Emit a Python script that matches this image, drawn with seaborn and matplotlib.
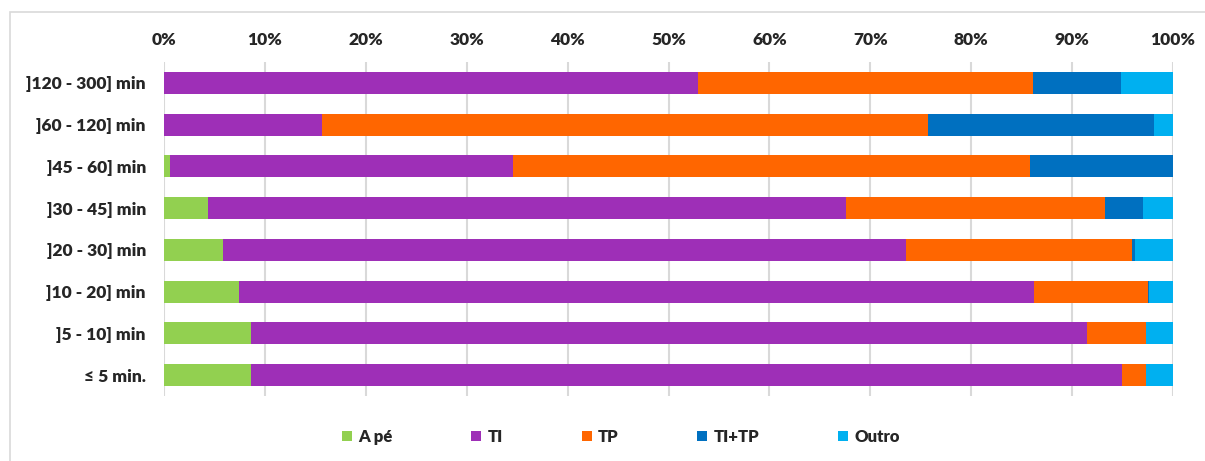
import matplotlib
matplotlib.use("Agg")
import matplotlib.pyplot as plt
from matplotlib.patches import Patch, Rectangle
import numpy as np
import pandas as pd
import seaborn as sns

categories = [']120 - 300] min', ']60 - 120] min', ']45 - 60] min', ']30 - 45] min',
              ']20 - 30] min', ']10 - 20] min', ']5 - 10] min', '≤ 5 min.']
modes = ['A pé', 'TI', 'TP', 'TI+TP', 'Outro']
a_pe = [0.0, 0.0, 0.6, 4.4, 5.8, 7.4, 8.65, 8.65]
ti = [52.9, 15.7, 34.0, 63.2, 67.7, 78.8, 82.85, 86.25]
tp = [33.2, 60.05, 51.2, 25.66, 22.4, 11.3, 5.8, 2.4]
ti_tp = [8.7, 22.4, 14.2, 3.8, 0.3, 0.1, 0.0, 0.0]
outro = [5.2, 1.85, 0.0, 2.94, 3.8, 2.4, 2.7, 2.7]
colors = ['#92D050', '#9E2FB7', '#FF6600', '#0070C0', '#00B0F0']

df = pd.DataFrame({'A pé': a_pe, 'TI': ti, 'TP': tp, 'TI+TP': ti_tp, 'Outro': outro},
                  index=categories)
df = df.div(df.sum(axis=1), axis=0) * 100
cum = df.cumsum(axis=1)

sns.set_theme(style='white')
plt.rcParams['font.family'] = ['Lato', 'DejaVu Sans']

fig = plt.figure(figsize=(12.05, 4.61), dpi=100)
ax = fig.add_axes([164 / 1205, 1 - 396 / 461, 1009 / 1205, 334 / 461])

# draw cumulative bars from the last segment back to the first
for mode, col in reversed(list(zip(modes, colors))):
    sns.barplot(x=cum[mode].values, y=categories, orient='h', color=col,
                saturation=1, width=0.53, ax=ax, zorder=3, linewidth=0)

ax.set_xlim(0, 100)
ax.set_ylim(7.5, -0.5)
ax.set_xticks(np.arange(0, 101, 10))
ax.set_xticklabels([f'{v}%' for v in range(0, 101, 10)])
ax.xaxis.tick_top()
ax.tick_params(axis='x', length=0, pad=10, labelsize=12.5)
ax.tick_params(axis='y', length=0, pad=13, labelsize=12.5)
for lbl in ax.get_xticklabels() + ax.get_yticklabels():
    lbl.set_fontweight('heavy')
ax.grid(axis='x', color='#D9D9D9', linewidth=1.5, zorder=0)
ax.set_axisbelow(True)
for s in ax.spines.values():
    s.set_visible(False)
ax.set_xlabel('')
ax.set_ylabel('')

handles = [Patch(facecolor=c, edgecolor='none', label=m) for m, c in zip(modes, colors)]
leg = fig.legend(handles=handles, loc='center', bbox_to_anchor=(621 / 1205, 1 - 437 / 461),
                 ncol=5, frameon=False, handlelength=0.6, handleheight=0.6,
                 handletextpad=0.4, columnspacing=4.7, prop={'weight': 'heavy', 'size': 12})

fig.patches.append(Rectangle((9.5 / 1205, -0.1), 1.2, 1 - 12.5 / 461 + 0.1,
                             transform=fig.transFigure, fill=False,
                             edgecolor='#D9D9D9', linewidth=1.2))

fig.savefig('out.png', dpi=100)
